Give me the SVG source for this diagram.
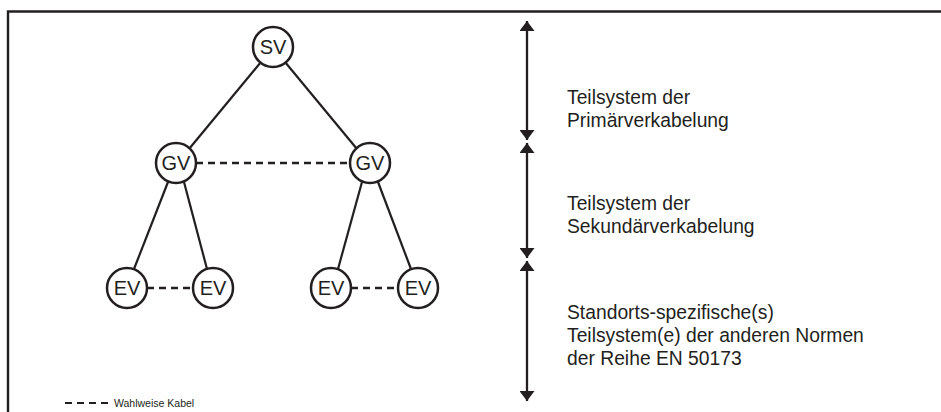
<svg xmlns="http://www.w3.org/2000/svg" width="941" height="412" viewBox="0 0 941 412">
  <defs>
    <style>
      .frame { fill: none; stroke: #231f20; stroke-width: 2.4; }
      .node circle { fill: #fff; stroke: #231f20; stroke-width: 2.5; }
      .node text { font-family: "Liberation Sans", Arial, sans-serif; font-size: 20px; fill: #231f20; text-anchor: middle; }
      .link { stroke: #231f20; stroke-width: 2.2; fill: none; }
      .opt { stroke: #231f20; stroke-width: 2.4; fill: none; stroke-dasharray: 7 5; }
      .span { stroke: #231f20; stroke-width: 2.3; fill: none; }
      .label { font-family: "Liberation Sans", Arial, sans-serif; font-size: 19.3px; fill: #231f20; }
      .legend { font-family: "Liberation Sans", Arial, sans-serif; font-size: 10.5px; fill: #231f20; }
    </style>
    <marker id="tip" viewBox="0 0 10 15" refX="10" refY="7.5" markerWidth="10" markerHeight="15" markerUnits="userSpaceOnUse" orient="auto">
      <path d="M0,0 L10,7.5 L0,15 Z" fill="#231f20"/>
    </marker>
  </defs>

  <!-- frame (top and left edges) -->
  <path class="frame" d="M8,412 V11.5 H941"/>

  <!-- connectors -->
  <g id="connectors">
    <line class="link" x1="261" y1="62" x2="189" y2="149"/>
    <line class="link" x1="285" y1="62" x2="357" y2="149"/>
    <line class="link" x1="168" y1="182" x2="134" y2="269"/>
    <line class="link" x1="184" y1="182" x2="207" y2="269"/>
    <line class="link" x1="362" y1="182" x2="338" y2="269"/>
    <line class="link" x1="378" y1="182" x2="411" y2="269"/>
    <line class="opt" x1="196" y1="163" x2="350" y2="163"/>
    <line class="opt" x1="147" y1="288" x2="193" y2="288"/>
    <line class="opt" x1="351" y1="288" x2="398" y2="288"/>
  </g>

  <!-- nodes -->
  <g id="sv" class="node"><circle cx="273" cy="47" r="20"/><text x="273" y="54">SV</text></g>
  <g id="gv-left" class="node"><circle cx="176" cy="163" r="20"/><text x="176" y="170">GV</text></g>
  <g id="gv-right" class="node"><circle cx="370" cy="163" r="20"/><text x="370" y="170">GV</text></g>
  <g id="ev-1" class="node"><circle cx="127" cy="288" r="20"/><text x="127" y="295">EV</text></g>
  <g id="ev-2" class="node"><circle cx="213" cy="288" r="20"/><text x="213" y="295">EV</text></g>
  <g id="ev-3" class="node"><circle cx="331" cy="288" r="20"/><text x="331" y="295">EV</text></g>
  <g id="ev-4" class="node"><circle cx="418" cy="288" r="20"/><text x="418" y="295">EV</text></g>

  <!-- extent arrows for the subsystems -->
  <g id="spans">
    <line class="span" x1="527" y1="80" x2="527" y2="21" marker-end="url(#tip)"/>
    <line class="span" x1="527" y1="80" x2="527" y2="140" marker-end="url(#tip)"/>
    <line class="span" x1="527" y1="200" x2="527" y2="143" marker-end="url(#tip)"/>
    <line class="span" x1="527" y1="200" x2="527" y2="258" marker-end="url(#tip)"/>
    <line class="span" x1="527" y1="330" x2="527" y2="261" marker-end="url(#tip)"/>
    <line class="span" x1="527" y1="330" x2="527" y2="401" marker-end="url(#tip)"/>
  </g>

  <g id="labels">
    <text class="label" x="567" y="104">Teilsystem der</text>
    <text class="label" x="567" y="127">Primärverkabelung</text>
    <text class="label" x="567" y="210">Teilsystem der</text>
    <text class="label" x="567" y="233">Sekundärverkabelung</text>
    <text class="label" x="567" y="319">Standorts-spezifische(s)</text>
    <text class="label" x="567" y="342">Teilsystem(e) der anderen Normen</text>
    <text class="label" x="567" y="365">der Reihe EN 50173</text>
  </g>

  <!-- legend -->
  <g id="legend">
    <line x1="65" y1="403" x2="110" y2="403" stroke="#231f20" stroke-width="2.2" stroke-dasharray="7 5"/>
    <text class="legend" x="114" y="407">Wahlweise Kabel</text>
  </g>
</svg>
